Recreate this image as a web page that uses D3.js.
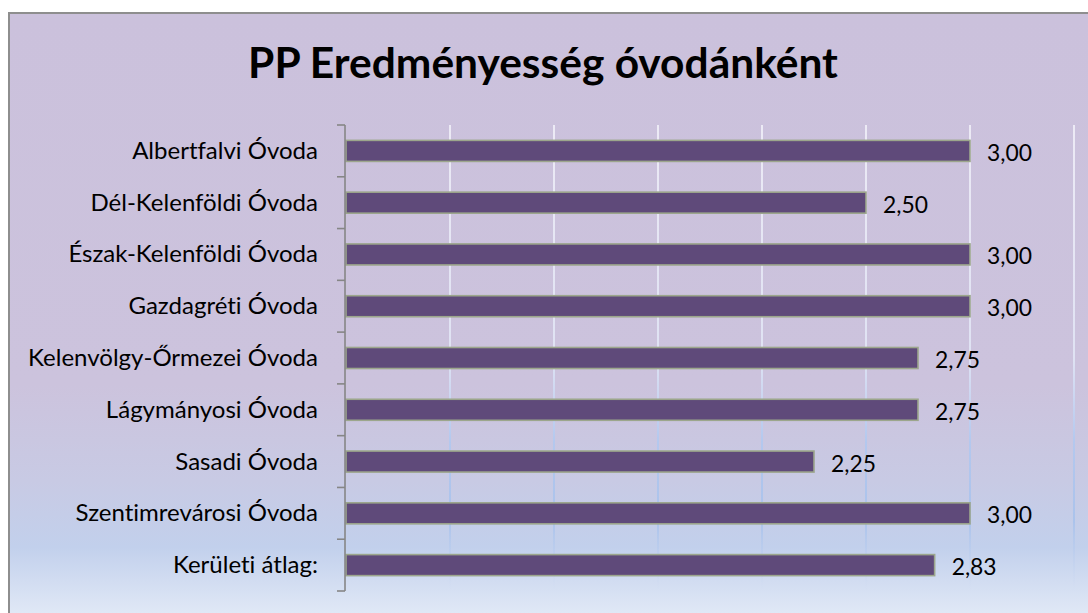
<!DOCTYPE html>
<html>
<head>
<meta charset="utf-8">
<script src="https://cdn.jsdelivr.net/npm/d3@7"></script>
<style>
html,body{margin:0;padding:0;background:#fff;}
svg{display:block;}
svg text{font-variant-ligatures:none;font-feature-settings:"liga" 0, "clig" 0;}
</style>
</head>
<body>
<svg id="chart" width="1088" height="613"></svg>
<script>
const titleText = "PP Eredményesség óvodánként";
const categories = [
  "Albertfalvi Óvoda",
  "Dél-Kelenföldi Óvoda",
  "Észak-Kelenföldi Óvoda",
  "Gazdagréti Óvoda",
  "Kelenvölgy-Őrmezei Óvoda",
  "Lágymányosi Óvoda",
  "Sasadi Óvoda",
  "Szentimrevárosi Óvoda",
  "Kerületi átlag:"
];
const values = [3.00, 2.50, 3.00, 3.00, 2.75, 2.75, 2.25, 3.00, 2.83];
const gridTicks = [0.5, 1.0, 1.5, 2.0, 2.5, 3.0, 3.5];
const xDomain = [0, 3.5];

const svg = d3.select("#chart");
const FONT = "Lato, 'Open Sans', sans-serif";

const defs = svg.append("defs");
const bg = defs.append("linearGradient").attr("id","bg")
  .attr("gradientUnits","userSpaceOnUse").attr("x1",0).attr("x2",0).attr("y1",13).attr("y2",613);
[[0,"#cbc1dc"],[0.62,"#ccc3dd"],[0.78,"#c8cae4"],[0.89,"#c2d0ec"],[1,"#e0e8f6"]]
  .forEach(([o,c])=>bg.append("stop").attr("offset",o).attr("stop-color",c));
const gg = defs.append("linearGradient").attr("id","grid")
  .attr("gradientUnits","userSpaceOnUse").attr("x1",0).attr("x2",0).attr("y1",125).attr("y2",591);
[[0,"#eceaf5",1],[0.5,"#dfe2f3",1],[0.68,"#b4c8ee",1],[0.85,"#a8c2ec",0.9],[1,"#c8d6f0",0]]
  .forEach(([o,c,a])=>gg.append("stop").attr("offset",o).attr("stop-color",c).attr("stop-opacity",a));

// chart area
svg.append("rect").attr("x",9).attr("y",13).attr("width",1100).attr("height",620)
  .attr("fill","url(#bg)").attr("stroke","#8e8e8e").attr("stroke-width",2);

const x = d3.scaleLinear().domain(xDomain).range([346, 1074]);
const y = d3.scaleBand().domain(categories).range([125, 591])
  .paddingInner(0.594).paddingOuter(0.297);

function fitSize(text, weight, target){
  const t = svg.append("text").attr("font-family",FONT).attr("font-weight",weight)
    .attr("font-size",100).text(text);
  const w = t.node().getComputedTextLength();
  t.remove();
  return 100*target/w;
}

// gridlines
svg.append("g").selectAll("line").data(gridTicks).join("line")
  .attr("x1",d=>x(d)).attr("x2",d=>x(d))
  .attr("y1",125).attr("y2",591)
  .attr("stroke","url(#grid)").attr("stroke-width",2);

// bars
svg.append("g").selectAll("rect").data(values).join("rect")
  .attr("x",x(0)).attr("y",(d,i)=>y(categories[i]))
  .attr("width",d=>x(d)-x(0)).attr("height",y.bandwidth())
  .attr("fill","#5f4a7a").attr("stroke","#9ca68c").attr("stroke-width",1.6);

// axis
const axisX = 345;
const boundaries = d3.range(categories.length+1).map(i=>y.range()[0] + i*y.step());
const ax = svg.append("g").attr("stroke","#868686").attr("stroke-width",1.6);
ax.append("line").attr("x1",axisX).attr("x2",axisX).attr("y1",boundaries[0]).attr("y2",boundaries[boundaries.length-1]);
ax.selectAll("line.tick").data(boundaries).join("line").attr("class","tick")
  .attr("x1",axisX-8).attr("x2",axisX).attr("y1",d=>d).attr("y2",d=>d);

// category labels
const catSize = fitSize("Kelenvölgy-Őrmezei Óvoda", 400, 290);
svg.append("g").selectAll("text").data(categories).join("text")
  .attr("x",318).attr("y",d=>y(d)+y.bandwidth()/2 + 8)
  .attr("text-anchor","end").attr("font-family",FONT).attr("font-size",catSize)
  .attr("fill","#000").text(d=>d);

// value labels
const valSize = fitSize("3,00", 400, 45);
const fmt = v => d3.format(".2f")(v).replace(".", ",");
svg.append("g").selectAll("text").data(values).join("text")
  .attr("x",d=>x(d)+17).attr("y",(d,i)=>y(categories[i])+y.bandwidth()/2 + 10)
  .attr("font-family",FONT).attr("font-size",valSize).attr("fill","#000")
  .text(d=>fmt(d));

// title
const titleSize = fitSize(titleText, 700, 590);
svg.append("text").attr("x",543).attr("y",78).attr("text-anchor","middle")
  .attr("font-family",FONT).attr("font-weight",700).attr("font-size",titleSize)
  .attr("fill","#000").text(titleText);
</script>
</body>
</html>
